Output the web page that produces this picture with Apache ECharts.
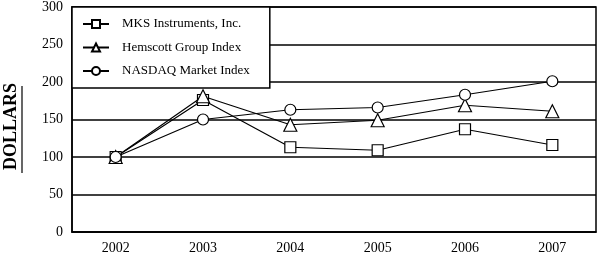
<!DOCTYPE html>
<html><head><meta charset="utf-8">
<script src="https://cdn.jsdelivr.net/npm/echarts@6/dist/echarts.min.js"></script>
<style>html,body{margin:0;padding:0;background:#fff}#c{width:597px;height:255px}</style>
</head><body><div id="c"></div>
<script>
const years = ['2002','2003','2004','2005','2006','2007'];
const mks = [100, 176, 113, 109, 137, 116];
const hemscott = [100, 181, 143, 149, 169, 161];
const nasdaq = [100, 150, 163, 166, 183, 201];
const seriesNames = ['MKS Instruments, Inc.', 'Hemscott Group Index', 'NASDAQ Market Index'];
const yTicks = [0, 50, 100, 150, 200, 250, 300];

const font = 'Liberation Serif';
const chart = echarts.init(document.getElementById('c'));
const mk = (name, data, symbol, size) => ({
  name, type: 'line', data, symbol, symbolSize: size, showSymbol: true,
  lineStyle: {color: '#000', width: 1.2},
  itemStyle: {color: '#fff', borderColor: '#000', borderWidth: 1.2},
  animation: false, z: 3
});
chart.setOption({
  animation: false,
  grid: {left: 72, right: 1, top: 7, bottom: 23, show: true, borderColor: '#000', borderWidth: 1.5,
         containLabel: false, outerBoundsMode: 'none'},
  legend: {
    left: 72, top: 7, orient: 'vertical',
    data: seriesNames,
    backgroundColor: '#fff', borderColor: '#000', borderWidth: 1.5,
    padding: [10.5, 20, 10.5, 10], itemGap: 10.5, itemWidth: 26, itemHeight: 10,
    textStyle: {fontFamily: font, fontSize: 13, color: '#000', padding: [0, 0, 0, 8], lineHeight: 13}
  },
  xAxis: {
    type: 'category', data: years, boundaryGap: true,
    axisLine: {lineStyle: {color: '#000', width: 1.5}},
    axisTick: {alignWithLabel: true, length: 4, lineStyle: {color: '#000'}},
    axisLabel: {fontFamily: font, fontSize: 14, color: '#000', margin: 9}
  },
  yAxis: {
    type: 'value', min: yTicks[0], max: yTicks[yTicks.length - 1], interval: 50,
    name: 'DOLLARS', nameLocation: 'middle', nameGap: 52, nameRotate: 90,
    nameTextStyle: {fontFamily: font, fontSize: 18, fontWeight: 'bold', color: '#000', padding: [0, 14, 0, 0]},
    axisLine: {show: true, lineStyle: {color: '#000', width: 1.5}},
    axisTick: {show: false},
    axisLabel: {fontFamily: font, fontSize: 14, color: '#000', margin: 9},
    splitLine: {lineStyle: {color: '#000', width: 1.5}}
  },
  series: [
    mk(seriesNames[0], mks, 'rect', 11),
    mk(seriesNames[1], hemscott, 'triangle', 13),
    mk(seriesNames[2], nasdaq, 'circle', 11)
  ],
  graphic: [{type: 'line', shape: {x1: 22, y1: 86, x2: 22, y2: 173}, style: {stroke: '#000', lineWidth: 1.2}}]
});
</script></body></html>
